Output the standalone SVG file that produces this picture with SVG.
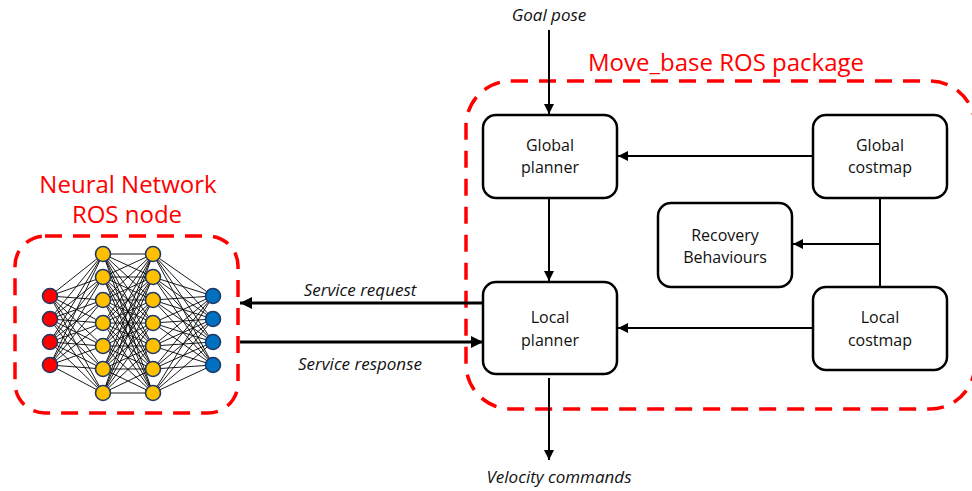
<svg xmlns="http://www.w3.org/2000/svg" width="972" height="491" viewBox="0 0 972 491">
  <style>
    .box { fill: #ffffff; stroke: #000000; stroke-width: 2.5; }
    .lbl { font-family: "Open Sans", "Liberation Sans", sans-serif; font-size: 16px; fill: #111111; text-anchor: middle; }
    .it { font-family: "Open Sans", "Liberation Sans", sans-serif; font-style: italic; font-size: 17px; fill: #111111; text-anchor: middle; }
    .title { font-family: "Open Sans", "Liberation Sans", sans-serif; font-size: 24px; fill: #ff0000; text-anchor: middle; }
    .group { fill: none; stroke: #ff0000; stroke-width: 3.5; stroke-dasharray: 17 11; }
    .wire { fill: none; stroke: #000000; stroke-width: 2; }
    .thick { fill: none; stroke: #000000; stroke-width: 3.2; }
    .syn { stroke: #000000; stroke-width: 0.9; }
    .neuron { stroke: #1f3864; stroke-width: 1.6; }
    .in { fill: #ff0000; }
    .hid { fill: #ffc000; }
    .out { fill: #0070c0; }
  </style>
  <defs>
    <marker id="arrow" markerUnits="userSpaceOnUse" markerWidth="12" markerHeight="10" refX="10" refY="5" orient="auto">
      <path d="M0,0 L10,5 L0,10 Z" fill="#000000"/>
    </marker>
    <marker id="arrowBig" markerUnits="userSpaceOnUse" markerWidth="14" markerHeight="12" refX="12" refY="6" orient="auto">
      <path d="M0,0 L12,6 L0,12 Z" fill="#000000"/>
    </marker>
  </defs>

  <!-- package / node boundaries -->
  <g id="move-base-package">
    <rect class="group" x="466" y="81" width="509" height="328" rx="45" ry="45"/>
    <text class="title" x="726" y="71">Move_base ROS package</text>
  </g>
  <g id="nn-ros-node">
    <rect class="group" x="15" y="236" width="223" height="177" rx="30" ry="30"/>
    <text class="title" x="128" y="193">Neural Network</text>
    <text class="title" x="127" y="223">ROS node</text>
  </g>

  <!-- neural network illustration -->
  <g id="neural-network">
    <g id="synapses">
      <!-- input (x=50) to hidden 1 (x=103) -->
      <g>
        <line class="syn" x1="50" y1="296" x2="103" y2="254"/><line class="syn" x1="50" y1="296" x2="103" y2="277"/><line class="syn" x1="50" y1="296" x2="103" y2="300"/><line class="syn" x1="50" y1="296" x2="103" y2="323"/><line class="syn" x1="50" y1="296" x2="103" y2="346"/><line class="syn" x1="50" y1="296" x2="103" y2="369"/><line class="syn" x1="50" y1="296" x2="103" y2="393"/>
        <line class="syn" x1="50" y1="319" x2="103" y2="254"/><line class="syn" x1="50" y1="319" x2="103" y2="277"/><line class="syn" x1="50" y1="319" x2="103" y2="300"/><line class="syn" x1="50" y1="319" x2="103" y2="323"/><line class="syn" x1="50" y1="319" x2="103" y2="346"/><line class="syn" x1="50" y1="319" x2="103" y2="369"/><line class="syn" x1="50" y1="319" x2="103" y2="393"/>
        <line class="syn" x1="50" y1="342" x2="103" y2="254"/><line class="syn" x1="50" y1="342" x2="103" y2="277"/><line class="syn" x1="50" y1="342" x2="103" y2="300"/><line class="syn" x1="50" y1="342" x2="103" y2="323"/><line class="syn" x1="50" y1="342" x2="103" y2="346"/><line class="syn" x1="50" y1="342" x2="103" y2="369"/><line class="syn" x1="50" y1="342" x2="103" y2="393"/>
        <line class="syn" x1="50" y1="365" x2="103" y2="254"/><line class="syn" x1="50" y1="365" x2="103" y2="277"/><line class="syn" x1="50" y1="365" x2="103" y2="300"/><line class="syn" x1="50" y1="365" x2="103" y2="323"/><line class="syn" x1="50" y1="365" x2="103" y2="346"/><line class="syn" x1="50" y1="365" x2="103" y2="369"/><line class="syn" x1="50" y1="365" x2="103" y2="393"/>
      </g>
      <!-- hidden 1 (x=103) to hidden 2 (x=153) -->
      <g>
        <line class="syn" x1="103" y1="254" x2="153" y2="254"/><line class="syn" x1="103" y1="254" x2="153" y2="277"/><line class="syn" x1="103" y1="254" x2="153" y2="300"/><line class="syn" x1="103" y1="254" x2="153" y2="323"/><line class="syn" x1="103" y1="254" x2="153" y2="346"/><line class="syn" x1="103" y1="254" x2="153" y2="369"/><line class="syn" x1="103" y1="254" x2="153" y2="393"/>
        <line class="syn" x1="103" y1="277" x2="153" y2="254"/><line class="syn" x1="103" y1="277" x2="153" y2="277"/><line class="syn" x1="103" y1="277" x2="153" y2="300"/><line class="syn" x1="103" y1="277" x2="153" y2="323"/><line class="syn" x1="103" y1="277" x2="153" y2="346"/><line class="syn" x1="103" y1="277" x2="153" y2="369"/><line class="syn" x1="103" y1="277" x2="153" y2="393"/>
        <line class="syn" x1="103" y1="300" x2="153" y2="254"/><line class="syn" x1="103" y1="300" x2="153" y2="277"/><line class="syn" x1="103" y1="300" x2="153" y2="300"/><line class="syn" x1="103" y1="300" x2="153" y2="323"/><line class="syn" x1="103" y1="300" x2="153" y2="346"/><line class="syn" x1="103" y1="300" x2="153" y2="369"/><line class="syn" x1="103" y1="300" x2="153" y2="393"/>
        <line class="syn" x1="103" y1="323" x2="153" y2="254"/><line class="syn" x1="103" y1="323" x2="153" y2="277"/><line class="syn" x1="103" y1="323" x2="153" y2="300"/><line class="syn" x1="103" y1="323" x2="153" y2="323"/><line class="syn" x1="103" y1="323" x2="153" y2="346"/><line class="syn" x1="103" y1="323" x2="153" y2="369"/><line class="syn" x1="103" y1="323" x2="153" y2="393"/>
        <line class="syn" x1="103" y1="346" x2="153" y2="254"/><line class="syn" x1="103" y1="346" x2="153" y2="277"/><line class="syn" x1="103" y1="346" x2="153" y2="300"/><line class="syn" x1="103" y1="346" x2="153" y2="323"/><line class="syn" x1="103" y1="346" x2="153" y2="346"/><line class="syn" x1="103" y1="346" x2="153" y2="369"/><line class="syn" x1="103" y1="346" x2="153" y2="393"/>
        <line class="syn" x1="103" y1="369" x2="153" y2="254"/><line class="syn" x1="103" y1="369" x2="153" y2="277"/><line class="syn" x1="103" y1="369" x2="153" y2="300"/><line class="syn" x1="103" y1="369" x2="153" y2="323"/><line class="syn" x1="103" y1="369" x2="153" y2="346"/><line class="syn" x1="103" y1="369" x2="153" y2="369"/><line class="syn" x1="103" y1="369" x2="153" y2="393"/>
        <line class="syn" x1="103" y1="393" x2="153" y2="254"/><line class="syn" x1="103" y1="393" x2="153" y2="277"/><line class="syn" x1="103" y1="393" x2="153" y2="300"/><line class="syn" x1="103" y1="393" x2="153" y2="323"/><line class="syn" x1="103" y1="393" x2="153" y2="346"/><line class="syn" x1="103" y1="393" x2="153" y2="369"/><line class="syn" x1="103" y1="393" x2="153" y2="393"/>
      </g>
      <!-- hidden 2 (x=153) to output (x=213) -->
      <g>
        <line class="syn" x1="153" y1="254" x2="213" y2="296"/><line class="syn" x1="153" y1="254" x2="213" y2="319"/><line class="syn" x1="153" y1="254" x2="213" y2="342"/><line class="syn" x1="153" y1="254" x2="213" y2="365"/>
        <line class="syn" x1="153" y1="277" x2="213" y2="296"/><line class="syn" x1="153" y1="277" x2="213" y2="319"/><line class="syn" x1="153" y1="277" x2="213" y2="342"/><line class="syn" x1="153" y1="277" x2="213" y2="365"/>
        <line class="syn" x1="153" y1="300" x2="213" y2="296"/><line class="syn" x1="153" y1="300" x2="213" y2="319"/><line class="syn" x1="153" y1="300" x2="213" y2="342"/><line class="syn" x1="153" y1="300" x2="213" y2="365"/>
        <line class="syn" x1="153" y1="323" x2="213" y2="296"/><line class="syn" x1="153" y1="323" x2="213" y2="319"/><line class="syn" x1="153" y1="323" x2="213" y2="342"/><line class="syn" x1="153" y1="323" x2="213" y2="365"/>
        <line class="syn" x1="153" y1="346" x2="213" y2="296"/><line class="syn" x1="153" y1="346" x2="213" y2="319"/><line class="syn" x1="153" y1="346" x2="213" y2="342"/><line class="syn" x1="153" y1="346" x2="213" y2="365"/>
        <line class="syn" x1="153" y1="369" x2="213" y2="296"/><line class="syn" x1="153" y1="369" x2="213" y2="319"/><line class="syn" x1="153" y1="369" x2="213" y2="342"/><line class="syn" x1="153" y1="369" x2="213" y2="365"/>
        <line class="syn" x1="153" y1="393" x2="213" y2="296"/><line class="syn" x1="153" y1="393" x2="213" y2="319"/><line class="syn" x1="153" y1="393" x2="213" y2="342"/><line class="syn" x1="153" y1="393" x2="213" y2="365"/>
      </g>
    </g>
    <g id="neurons">
      <circle class="neuron in" cx="50" cy="296" r="7.5"/>
      <circle class="neuron in" cx="50" cy="319" r="7.5"/>
      <circle class="neuron in" cx="50" cy="342" r="7.5"/>
      <circle class="neuron in" cx="50" cy="365" r="7.5"/>
      <circle class="neuron hid" cx="103" cy="254" r="7.5"/>
      <circle class="neuron hid" cx="103" cy="277" r="7.5"/>
      <circle class="neuron hid" cx="103" cy="300" r="7.5"/>
      <circle class="neuron hid" cx="103" cy="323" r="7.5"/>
      <circle class="neuron hid" cx="103" cy="346" r="7.5"/>
      <circle class="neuron hid" cx="103" cy="369" r="7.5"/>
      <circle class="neuron hid" cx="103" cy="393" r="7.5"/>
      <circle class="neuron hid" cx="153" cy="254" r="7.5"/>
      <circle class="neuron hid" cx="153" cy="277" r="7.5"/>
      <circle class="neuron hid" cx="153" cy="300" r="7.5"/>
      <circle class="neuron hid" cx="153" cy="323" r="7.5"/>
      <circle class="neuron hid" cx="153" cy="346" r="7.5"/>
      <circle class="neuron hid" cx="153" cy="369" r="7.5"/>
      <circle class="neuron hid" cx="153" cy="393" r="7.5"/>
      <circle class="neuron out" cx="213" cy="296" r="7.5"/>
      <circle class="neuron out" cx="213" cy="319" r="7.5"/>
      <circle class="neuron out" cx="213" cy="342" r="7.5"/>
      <circle class="neuron out" cx="213" cy="365" r="7.5"/>
    </g>
  </g>

  <!-- move_base components -->
  <g id="global-planner">
    <rect class="box" x="483" y="115" width="134" height="83" rx="13"/>
    <text class="lbl" x="550" y="151">Global</text>
    <text class="lbl" x="550" y="173">planner</text>
  </g>
  <g id="global-costmap">
    <rect class="box" x="813" y="115" width="134" height="83" rx="13"/>
    <text class="lbl" x="880" y="151">Global</text>
    <text class="lbl" x="880" y="173">costmap</text>
  </g>
  <g id="recovery-behaviours">
    <rect class="box" x="658" y="203" width="134" height="84" rx="13"/>
    <text class="lbl" x="725" y="241">Recovery</text>
    <text class="lbl" x="725" y="263">Behaviours</text>
  </g>
  <g id="local-planner">
    <rect class="box" x="483" y="282" width="134" height="92" rx="13"/>
    <text class="lbl" x="550" y="323">Local</text>
    <text class="lbl" x="550" y="346">planner</text>
  </g>
  <g id="local-costmap">
    <rect class="box" x="813" y="287" width="134" height="83" rx="13"/>
    <text class="lbl" x="880" y="323">Local</text>
    <text class="lbl" x="880" y="346">costmap</text>
  </g>

  <!-- connectors -->
  <g id="connectors">
    <path class="wire" d="M549,30 V114" marker-end="url(#arrow)"/>
    <path class="wire" d="M813,156 H618" marker-end="url(#arrow)"/>
    <path class="wire" d="M549,198 V281" marker-end="url(#arrow)"/>
    <path class="wire" d="M880,198 V287"/>
    <path class="wire" d="M880,244 H793" marker-end="url(#arrow)"/>
    <path class="wire" d="M813,328 H618" marker-end="url(#arrow)"/>
    <path class="wire" d="M549,378 V460" marker-end="url(#arrow)"/>
    <path class="thick" d="M483,303 H240" marker-end="url(#arrowBig)"/>
    <path class="thick" d="M240,342 H483" marker-end="url(#arrowBig)"/>
    <text class="it" x="549" y="21">Goal pose</text>
    <text class="it" x="559" y="483">Velocity commands</text>
    <text class="it" x="360" y="296">Service request</text>
    <text class="it" x="360" y="370">Service response</text>
  </g>
</svg>
